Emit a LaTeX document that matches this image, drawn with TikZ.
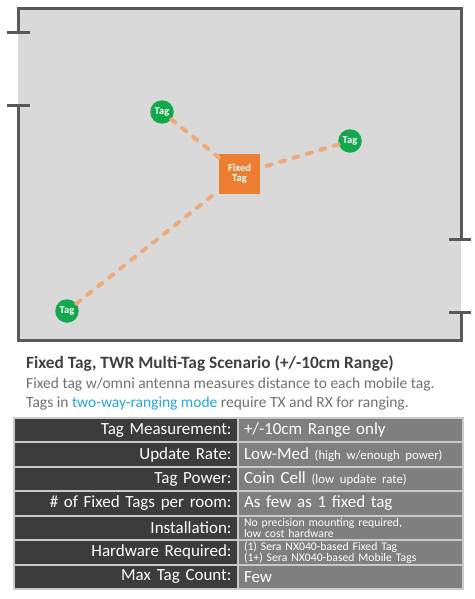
\documentclass[tikz,border=0pt]{standalone}
\usepackage{fontspec}
\setmainfont{Carlito}
\definecolor{roomgray}{HTML}{D9D9D9}
\definecolor{wallgray}{HTML}{595959}
\definecolor{taggreen}{HTML}{14A84C}
\definecolor{fixorange}{HTML}{ED7D31}
\definecolor{linkorange}{HTML}{EDAA7D}
\definecolor{titlegray}{HTML}{404040}
\definecolor{textgray}{HTML}{707070}
\definecolor{modeblue}{HTML}{25A5DC}
\definecolor{celldark}{HTML}{3C3C3C}
\definecolor{cellmid}{HTML}{7F7F7F}
\definecolor{cellline}{HTML}{C9C9C9}
\newcommand{\smallnote}[1]{{\fontsize{12.8}{14}\selectfont #1}}
\begin{document}
\begin{tikzpicture}[x=1pt, y=-1pt,
        % room and walls
        wall/.style={draw=wallgray, line width=3pt},
        % tags
        tag/.style={
            circle, fill=taggreen, minimum size=23.5pt, inner sep=0pt,
            text=white, font=\fontsize{10.5}{11}\selectfont\bfseries
        },
        fixed/.style={
            rectangle, fill=fixorange, minimum width=41pt, minimum height=40pt,
            inner sep=0pt, align=center, text=white,
            font=\fontsize{10.5}{11}\selectfont\bfseries
        },
        link/.style={draw=linkorange, line width=4pt, line cap=round,
            dash pattern=on 5pt off 9pt},
        % table cells
        keycell/.style={
            rectangle, draw=cellline, line width=2pt, fill=celldark,
            text width=212pt, inner xsep=6pt, inner ysep=0pt, align=right,
            minimum height=24.43pt, text=white, font=\fontsize{17}{20}\selectfont
        },
        valcell/.style={
            rectangle, draw=cellline, line width=2pt, fill=cellmid,
            text width=213pt, inner xsep=6pt, inner ysep=0pt, align=left,
            minimum height=24.43pt, text=white, font=\fontsize{17}{20}\selectfont
        },
        tinyval/.style={font=\fontsize{11.7}{10.7}\selectfont}
    ]
    \useasboundingbox (0,0) rectangle (474,599);

    % Room
    \fill[roomgray] (18,9) rectangle (461,340);
    \draw[wall] (18,33) -- (18,9) -- (461,9) -- (461,239);
    \draw[wall] (18,106) -- (18,340) -- (461,340) -- (461,312);
    \draw[wall] (7,33) -- (30,33);
    \draw[wall] (7,106) -- (30,106);
    \draw[wall] (449,239) -- (471,239);
    \draw[wall] (449,312) -- (471,312);

    % Tags
    \node[fixed] (fix) at (239.5,174) {Fixed\\[-1pt]Tag};
    \node[tag] (tagA) at (162,112) {Tag};
    \node[tag] (tagB) at (350,141) {Tag};
    \node[tag] (tagC) at (67,311) {Tag};

    % Ranging links
    \draw[link] (tagA) -- (fix);
    \draw[link] (tagB) -- (fix);
    \draw[link] (tagC) -- (fix);

    % Caption
    \node[anchor=base west, inner sep=0pt, text=titlegray,
        font=\fontsize{17.3}{20}\selectfont\bfseries] (title) at (26,368)
        {Fixed Tag, TWR Multi-Tag Scenario (+/-10cm Range)};
    \node[anchor=base west, inner sep=0pt, text=textgray,
        font=\fontsize{15.5}{19}\selectfont] (line1) at (26,388)
        {Fixed tag w/omni antenna measures distance to each mobile tag.};
    \node[anchor=base west, inner sep=0pt, text=textgray,
        font=\fontsize{15.5}{19}\selectfont] (line2) at (26,407)
        {Tags in \textcolor{modeblue}{two-way-ranging mode} require TX and RX for ranging.};

    % Table
    \node[keycell] (k1) at (125.5,430.2) {Tag Measurement:};
    \node[keycell] (k2) at (125.5,454.6) {Update Rate:};
    \node[keycell] (k3) at (125.5,479.1) {Tag Power:};
    \node[keycell] (k4) at (125.5,503.5) {\# of Fixed Tags per room:};
    \node[keycell] (k5) at (125.5,527.9) {Installation:};
    \node[keycell] (k6) at (125.5,552.4) {Hardware Required:};
    \node[keycell] (k7) at (125.5,576.8) {Max Tag Count:};

    \node[valcell] (v1) at (350.5,430.2) {+/-10cm Range only};
    \node[valcell] (v2) at (350.5,454.6) {Low-Med \smallnote{(high w/enough power)}};
    \node[valcell] (v3) at (350.5,479.1) {Coin Cell \smallnote{(low update rate)}};
    \node[valcell] (v4) at (350.5,503.5) {As few as 1 fixed tag};
    \node[valcell, tinyval] (v5) at (350.5,527.9) {No precision mounting required,\\low cost hardware};
    \node[valcell, tinyval] (v6) at (350.5,552.4) {(1) Sera NX040-based Fixed Tag\\(1+) Sera NX040-based Mobile Tags};
    \node[valcell] (v7) at (350.5,576.8) {Few};

\end{tikzpicture}
\end{document}
